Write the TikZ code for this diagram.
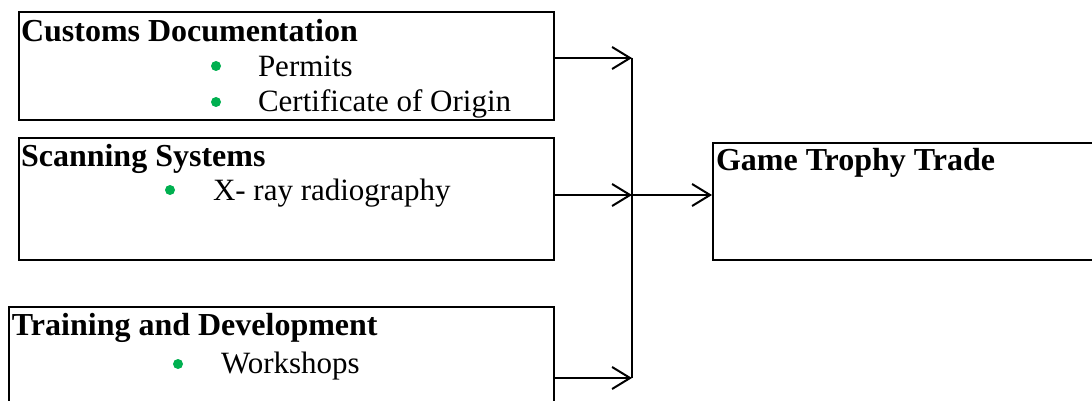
\documentclass[tikz,border=0pt]{standalone}
\usepackage{fontspec}
\setmainfont{Liberation Serif}
\usetikzlibrary{arrows.meta,positioning}
\definecolor{bul}{HTML}{00B050}

\begin{document}
\begin{tikzpicture}[x=1pt, y=-1pt, line width=2pt,
  font=\fontsize{31}{37}\selectfont,
  box/.style={draw, rectangle, anchor=north west, inner sep=0pt},
  head/.style={anchor=base west, inner sep=0pt, font=\fontsize{32}{38}\selectfont\bfseries},
  item/.style={anchor=base west, inner sep=0pt},
  dot/.style={circle, fill=bul, inner sep=0pt, minimum size=10pt},
  arr/.style={-{Straight Barb[length=18pt, width=22pt]}}]
\useasboundingbox (0,0) rectangle (1092,401);
% boxes on the left
\node[box, minimum width=535pt, minimum height=108pt] (cd) at (18,11) {};
\node[box, minimum width=535pt, minimum height=122pt] (ss) at (18,137) {};
\node[box, minimum width=545pt, minimum height=130pt] (td) at (8,306) {};
% target box (runs past the right edge)
\node[box, minimum width=400pt, minimum height=117pt] (gt) at (712,142) {};
% texts
\node[head] (cdT) at (20,42) {Customs Documentation};
\node[dot] (cd1) at (216,66) {};
\node[item] (cd1T) at (257,77) {Permits};
\node[dot] (cd2) at (216,102) {};
\node[item] (cd2T) at (257,112) {Certificate of Origin};
\node[head] (ssT) at (20,167) {Scanning Systems};
\node[dot] (ss1) at (170,190) {};
\node[item] (ss1T) at (212,200) {X- ray radiography};
\node[head] (tdT) at (11,335) {Training and Development};
\node[dot] (td1) at (178,364) {};
\node[item] (td1T) at (220,373) {Workshops};
\node[head] (gtT) at (715,170) {Game Trophy Trade};
% bus
\coordinate (b1) at (632,58);
\coordinate (b2) at (632,195);
\coordinate (b3) at (632,378);
\draw (b1) -- (b3);
\draw[arr] (cd.east |- b1) -- (b1);
\draw[arr] (ss.east |- b2) -- (b2);
\draw[arr] (td.east |- b3) -- (b3);
\draw[arr] (b2) -- (gt.west |- b2);
\end{tikzpicture}
\end{document}
